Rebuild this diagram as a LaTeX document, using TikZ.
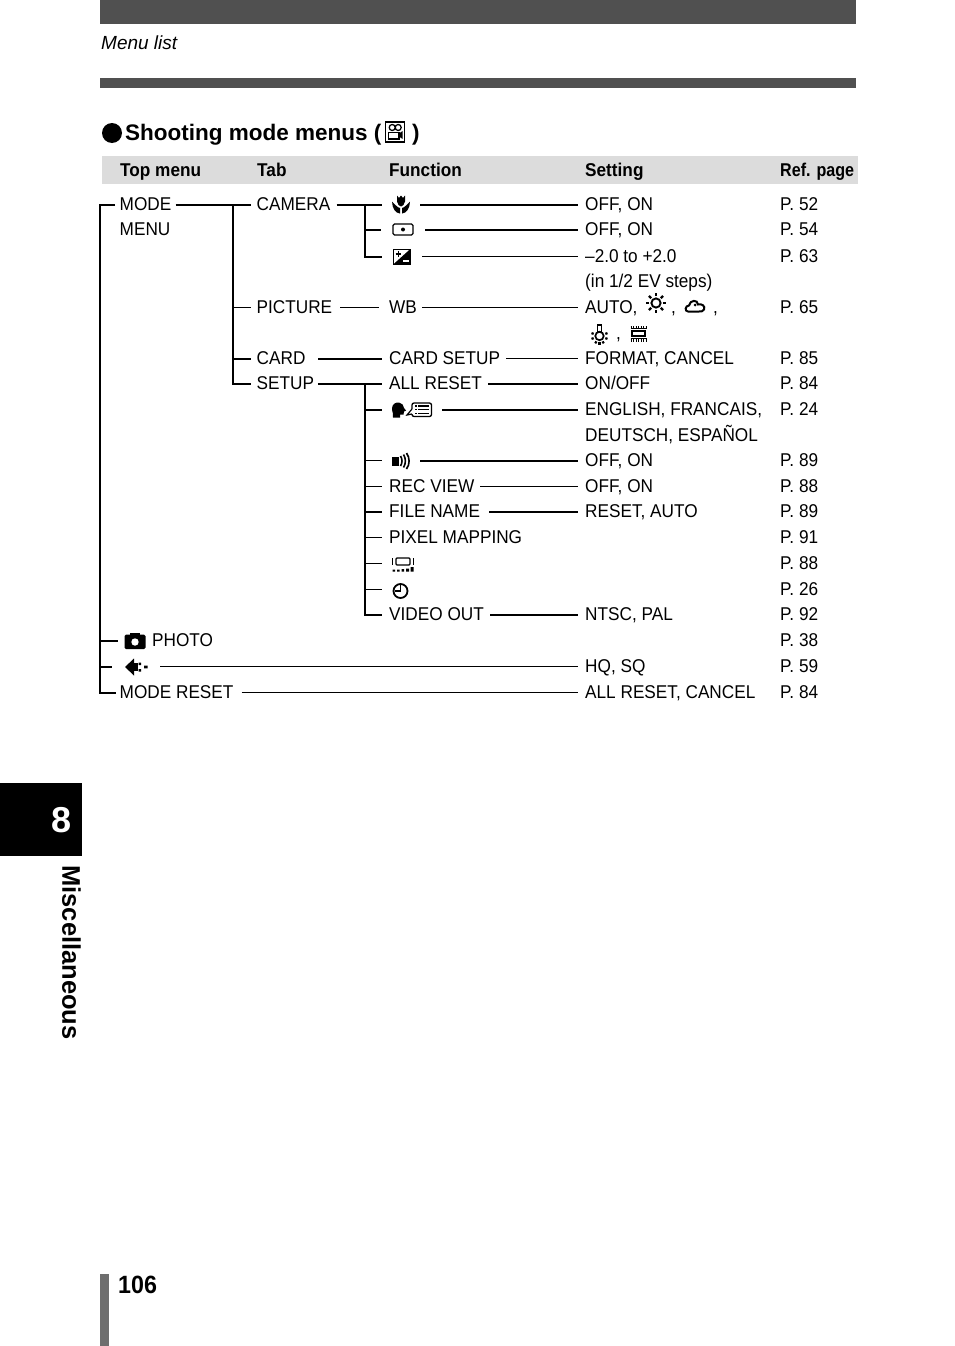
\documentclass[tikz,border=0pt]{standalone}
\usepackage{fontspec}
\setmainfont{Liberation Sans}[FakeStretch=0.93]
\newfontfamily\titlefont{Liberation Sans}
\definecolor{barcol}{HTML}{505050}
\definecolor{headcol}{HTML}{DCDCDC}
\definecolor{sidecol}{HTML}{6E6E6E}
\tikzset{
    txt/.style={anchor=west, inner sep=0pt, text height=12pt, text depth=1pt, font=\fontsize{18.5}{20}\selectfont},
    hd/.style={txt, font=\fontsize{18.5}{20}\selectfont\bfseries},
    icon/.style={inner sep=0pt, minimum height=14pt},
    thk/.style={line width=2pt},
    thn/.style={line width=1.1pt},
    macroicon/.pic={
        \fill (-4,-9) -- (-2,-6.5) -- (0,-9) -- (2,-6.5) -- (4,-9) -- (4,-3) .. controls (4,0) and (1,2) .. (0,2) .. controls (-1,2) and (-4,0) .. (-4,-3) -- cycle;
        \fill (-9,-3) .. controls (-9,4) and (-5,9) .. (-1,9) -- (-1,3.5) .. controls (-3,3.5) and (-6,0) .. (-9,-3) -- cycle;
        \fill (9,-3) .. controls (9,4) and (5,9) .. (1,9) -- (1,3.5) .. controls (3,3.5) and (6,0) .. (9,-3) -- cycle;
    },
    spoticon/.pic={
        \draw[line width=1.3pt, rounded corners=1.5pt] (-10,-5.5) rectangle (10,5.5);
        \fill (0,0) circle (2);
    },
    evicon/.pic={
        \fill (-9,-7.5) rectangle (9,8);
        \fill[white] (-8,-6.5) -- (7,-6.5) -- (-8,7) -- cycle;
        \draw[line width=1.3pt] (-6.5,-2.5) -- (-1,-2.5) (-3.75,-5.2) -- (-3.75,0.2);
        \draw[white, line width=1.4pt] (1,4.5) -- (7,4.5);
    },
    sunicon/.pic={
        \draw[line width=1.9pt] (0,0) circle (4.6);
        \foreach \a in {0,45,...,315} {\draw[line width=2.4pt] (\a:6.8) -- (\a:10);}
    },
    cloudicon/.pic={
        \draw[line width=2pt] (-7,5.5) .. controls (-10.5,5.5) and (-10,-0.5) .. (-6,-0.5) .. controls (-5,-6.5) and (3,-6.5) .. (3,-1.5) .. controls (7,-2.5) and (10.5,0) .. (9,3.5) .. controls (8.3,5.5) and (6,5.5) .. (4,5.5) -- cycle;
        \fill (0,-1) circle (1.5);
    },
    lampicon/.pic={
        \draw[line width=1.7pt] (0,0.5) circle (4.2);
        \draw[line width=1.2pt] (-2.2,-4) rectangle (2.2,-10.5);
        \foreach \a in {-20,20,160,200,60,90,120} {\draw[line width=2.2pt] ([shift={(0,0.5)}]\a:6.2) -- ([shift={(0,0.5)}]\a:8.5);}
    },
    flicon/.pic={
        \draw[line width=1.6pt] (-6.5,-2.5) rectangle (6.5,2.5);
        \draw[line width=2.6pt, dash pattern=on 1.3pt off 1.2pt] (-8,-6.5) -- (8,-6.5) (-8,7) -- (8,7);
        \draw[line width=1.2pt] (-8,-4.7) -- (8,-4.7) (-8,4.8) -- (8,4.8);
    },
    langicon/.pic={
        \fill (-20,-1) .. controls (-20,-5.5) and (-16,-7.5) .. (-13,-7) .. controls (-10,-6.5) and (-8,-4) .. (-8,-1.5) -- (-6,1) -- (-8,2) -- (-8.5,5) -- (-12,5) -- (-12,8) -- (-19,8) .. controls (-18,5) and (-20,3) .. (-20,-1) -- cycle;
        \draw[line width=1.3pt, rounded corners=2pt] (0,-6.5) rectangle (19.5,7);
        \fill[white] (-1,-0.5) rectangle (1,4.5);
        \draw[line width=1.2pt] (0,-0.5) -- (-5,5.5) -- (0,4.5);
        \draw[line width=1.2pt] (3,-3.5) -- (4.5,-3.5) (6,-3.5) -- (16.5,-3.5) (3,0.2) -- (4.5,0.2) (6,0.2) -- (16.5,0.2) (3,3.8) -- (4.5,3.8) (6,3.8) -- (16.5,3.8);
    },
    soundicon/.pic={
        \fill (-9,-4.5) rectangle (-2,4.5);
        \draw[line width=1.6pt] (-0.5,-5) .. controls (1.5,-2) and (1.5,2) .. (-0.5,5);
        \draw[line width=1.6pt] (2.5,-6.5) .. controls (5,-2.5) and (5,2.5) .. (2.5,6.5);
        \draw[line width=1.6pt] (5.5,-8) .. controls (9,-3) and (9,3) .. (5.5,8);
    },
    lcdicon/.pic={
        \draw[line width=1.2pt, rounded corners=1pt] (-7,-6) rectangle (7,1);
        \draw[line width=1.5pt] (-10.5,-6) -- (-10.5,1) (10.5,-6) -- (10.5,1);
        \fill (-10.5,5.5) rectangle (-8,7.5) (-6,5.5) rectangle (-3.5,7.5) (-1.5,5) rectangle (1,7.5) (3,4.5) rectangle (6,7.5) (7.5,3) rectangle (10.5,7.5);
    },
    clockicon/.pic={
        \draw[line width=1.8pt] (0,0) circle (7);
        \draw[line width=1.6pt] (0,-6) -- (0,0) -- (-6,0);
    },
    camicon/.pic={
        \fill[rounded corners=1.5pt] (-10.5,-6) rectangle (10.5,8.5);
        \fill (-5,-8) rectangle (5,-5);
        \fill[white] (0,1.5) circle (3.7);
    },
    qualicon/.pic={
        \fill (-11,0) -- (-2,-8.5) -- (-2,8.5) -- cycle;
        \fill (-2,-4) rectangle (1.5,4);
        \fill (2.5,-4.5) rectangle (5,-2) (2.5,2) rectangle (5,4.5) (8,-1.3) rectangle (11.5,1.3);
    },
    movieicon/.pic={
        \draw[line width=1.1pt] (-9.5,-10) rectangle (9.5,10);
        \draw[line width=1.3pt] (-2.5,-4.5) circle (3) (3.5,-4.5) circle (3);
        \fill (-7,-0.5) rectangle (5,7.5);
        \fill[white] (-5.5,0.8) rectangle (3.5,6.2);
        \fill (5,1) -- (8,-1) -- (8,7) -- (5,5) -- cycle;
    },
}
\begin{document}
\begin{tikzpicture}[x=1pt,y=-1pt]
    \useasboundingbox (0,0) rectangle (954,1346);
    % page furniture
    \fill[barcol] (100,0) rectangle (856,24);
    \fill[barcol] (100,78) rectangle (856,88);
    \fill[headcol] (102,156) rectangle (858,184);
    \fill[black] (0,783) rectangle (82,856);
    \fill[sidecol] (100,1274) rectangle (109,1346);
    \node (runhead) at (101,44) [txt]{\itshape\addfontfeature{FakeStretch=1} \fontsize{19}{20}\selectfont Menu list};
    \node (chapter) at (62,820.5) [text=white, inner sep=0pt, font=\titlefont\fontsize{36}{40}\selectfont\bfseries]{8};
    \node (side) at (71.5,952.5) [rotate=-90, inner sep=0pt, font=\titlefont\fontsize{25.5}{28}\selectfont\bfseries]{Miscellaneous};
    \node (folio) at (118,1285) [anchor=west, inner sep=0pt, font=\fontsize{25}{28}\selectfont\bfseries]{106};
    % heading
    \node (dot) at (112,133) [circle, fill=black, inner sep=0pt, minimum size=20pt]{};
    \node (title) at (125,133) [anchor=west, inner sep=0pt, text height=16pt, text depth=1pt, font=\titlefont\fontsize{22.5}{26}\selectfont\bfseries]{Shooting mode menus (};
    \node (titleb) at (412,133) [anchor=west, inner sep=0pt, text height=16pt, text depth=1pt, font=\titlefont\fontsize{22.5}{26}\selectfont\bfseries]{)};
    \pic at (394.7,132) {movieicon};
    % column heads
    \node (hTop) at (120,170.5) [hd]{Top menu};
    \node (hTab) at (257,170.5) [hd]{Tab};
    \node (hFun) at (389,170.5) [hd]{Function};
    \node (hSet) at (585,170.5) [hd]{Setting};
    \node (hRef) at (780,170.5) [hd]{\addfontfeature{FakeStretch=0.87}Ref. page};
    % top menu
    \node (mode) at (119.5,204.5) [txt]{MODE};
    \node (menu) at (119.5,229.5) [txt]{MENU};
    \node (photoIc) at (135,640.5) [icon, minimum width=34pt]{};
    \node (photo) at (152,640.5) [txt]{PHOTO};
    \node (qualIc) at (136,666.5) [icon, minimum width=48pt]{};
    \node (reset) at (119.5,692.5) [txt]{MODE RESET};
    \pic at (135,640.5) {camicon};
    \pic at (136,667) {qualicon};
    % tab
    \node (camera) at (256.5,204.5) [txt]{CAMERA};
    \node (picture) at (256.5,307.5) [txt]{PICTURE};
    \node (card) at (256.5,358.5) [txt]{CARD};
    \node (setup) at (256.5,383.5) [txt]{SETUP};
    % function
    \node (macroF) at (401,204.5) [icon, minimum width=38pt]{};
    \node (spotF) at (403,229.5) [icon, minimum width=44pt]{};
    \node (evF) at (402,256.5) [icon, minimum width=40pt]{};
    \node (wb) at (389,307.5) [txt]{WB};
    \node (cardset) at (389,358.5) [txt]{CARD SETUP};
    \node (allres) at (389,383.5) [txt]{ALL RESET};
    \node (langF) at (412,409.5) [icon, minimum width=60pt]{};
    \node (soundF) at (401,460.5) [icon, minimum width=38pt]{};
    \node (rec) at (389,486.5) [txt]{REC VIEW};
    \node (file) at (389,512) [txt]{FILE NAME};
    \node (pixel) at (389,537.5) [txt]{PIXEL MAPPING};
    \node (lcdF) at (403,563.5) [icon, minimum width=42pt]{};
    \node (clockF) at (401,589.5) [icon, minimum width=38pt]{};
    \node (video) at (389,615) [txt]{VIDEO OUT};
    \pic at (401,204.5) {macroicon};
    \pic at (403,229.5) {spoticon};
    \pic at (402,256.5) {evicon};
    \pic at (412,409.5) {langicon};
    \pic at (401,461) {soundicon};
    \pic at (403,564) {lcdicon};
    \pic at (400.5,591) {clockicon};
    % setting
    \node (s1) at (585,204.5) [txt]{OFF, ON};
    \node (s2) at (585,229.5) [txt]{OFF, ON};
    \node (s3) at (585,256.5) [txt]{--2.0 to +2.0};
    \node (s3b) at (585,282) [txt]{(in 1/2 EV steps)};
    \node (s4) at (585,307.5) [txt]{AUTO,};
    \node (s4a) at (671,307.5) [txt]{,};
    \node (s4b) at (713,307.5) [txt]{,};
    \node (s4c) at (616,333.5) [txt]{,};
    \pic at (656,303) {sunicon};
    \pic at (695,306) {cloudicon};
    \pic at (599.5,335.5) {lampicon};
    \pic at (638.5,333.5) {flicon};
    \node (s5) at (585,358.5) [txt]{FORMAT, CANCEL};
    \node (s6) at (585,383.5) [txt]{ON/OFF};
    \node (s7) at (585,409.5) [txt]{ENGLISH, FRANCAIS,};
    \node (s7b) at (585,435.5) [txt]{DEUTSCH, ESPAÑOL};
    \node (s8) at (585,460.5) [txt]{OFF, ON};
    \node (s9) at (585,486.5) [txt]{OFF, ON};
    \node (s10) at (585,512) [txt]{RESET, AUTO};
    \node (s11) at (585,615) [txt]{NTSC, PAL};
    \node (s12) at (585,666.5) [txt]{HQ, SQ};
    \node (s13) at (585,692.5) [txt]{ALL RESET, CANCEL};
    % ref. page
    \node (r1) at (780,204.5) [txt]{P. 52};
    \node (r2) at (780,229.5) [txt]{P. 54};
    \node (r3) at (780,256.5) [txt]{P. 63};
    \node (r4) at (780,307.5) [txt]{P. 65};
    \node (r5) at (780,358.5) [txt]{P. 85};
    \node (r6) at (780,383.5) [txt]{P. 84};
    \node (r7) at (780,409.5) [txt]{P. 24};
    \node (r8) at (780,460.5) [txt]{P. 89};
    \node (r9) at (780,486.5) [txt]{P. 88};
    \node (r10) at (780,512) [txt]{P. 89};
    \node (r11) at (780,537.5) [txt]{P. 91};
    \node (r12) at (780,563.5) [txt]{P. 88};
    \node (r13) at (780,589.5) [txt]{P. 26};
    \node (r14) at (780,615) [txt]{P. 92};
    \node (r15) at (780,640.5) [txt]{P. 38};
    \node (r16) at (780,666.5) [txt]{P. 59};
    \node (r17) at (780,692.5) [txt]{P. 84};
    % left spine
    \draw[thk] ([xshift=-4.5]mode.west) -| (100,692.5) -- ([xshift=-4]reset.west);
    \draw[thk] (100,640.5) -- (photoIc.west);
    \draw[thk] (100,666.5) -- (qualIc.west);
    % tab spine
    \draw[thk] ([xshift=4]mode.east) -- ([xshift=-6]camera.west);
    \draw[thk] (233,204.5) -- (233,383.5) -- ([xshift=-6]setup.west);
    \draw[thn] (233,307.5) -- ([xshift=-6]picture.west);
    \draw[thk] (233,358.5) -- ([xshift=-6]card.west);
    % function spines
    \draw[thk] ([xshift=6]camera.east) -- (macroF.west);
    \draw[thk] (365,204.5) |- (evF.west);
    \draw[thk] (365,229.5) -- (spotF.west);
    \draw[thn] ([xshift=8]picture.east) -- ([xshift=-10]wb.west);
    \draw[thk] ([xshift=12.5]card.east) -- ([xshift=-7]cardset.west);
    \draw[thk] ([xshift=3.5]setup.east) -- ([xshift=-7]allres.west);
    \draw[thk] (365,383.5) |- ([xshift=-7]video.west);
    \draw[thk] (365,409.5) -- (langF.west);
    \draw[thn] (365,460.5) -- (soundF.west);
    \draw[thn] (365,486.5) -- ([xshift=-7]rec.west);
    \draw[thn] (365,512) -- ([xshift=-7]file.west);
    \draw[thn] (365,537.5) -- ([xshift=-7]pixel.west);
    \draw[thn] (365,563.5) -- (lcdF.west);
    \draw[thn] (365,589.5) -- (clockF.west);
    % to the settings
    \draw[thk] (macroF.east) -- ([xshift=-7]s1.west);
    \draw[thk] (spotF.east) -- ([xshift=-7]s2.west);
    \draw[thn] (evF.east) -- ([xshift=-7]s3.west);
    \draw[thn] ([xshift=5]wb.east) -- ([xshift=-7]s4.west);
    \draw[thn] ([xshift=6]cardset.east) -- ([xshift=-7]s5.west);
    \draw[thk] ([xshift=6]allres.east) -- ([xshift=-7]s6.west);
    \draw[thk] (langF.east) -- ([xshift=-7]s7.west);
    \draw[thk] (soundF.east) -- ([xshift=-7]s8.west);
    \draw[thn] ([xshift=6]rec.east) -- ([xshift=-7]s9.west);
    \draw[thk] ([xshift=9]file.east) -- ([xshift=-7]s10.west);
    \draw[thk] ([xshift=6]video.east) -- ([xshift=-7]s11.west);
    \draw[thn] (qualIc.east) -- ([xshift=-7]s12.west);
    \draw[thn] ([xshift=8]reset.east) -- ([xshift=-7]s13.west);
\end{tikzpicture}
\end{document}
